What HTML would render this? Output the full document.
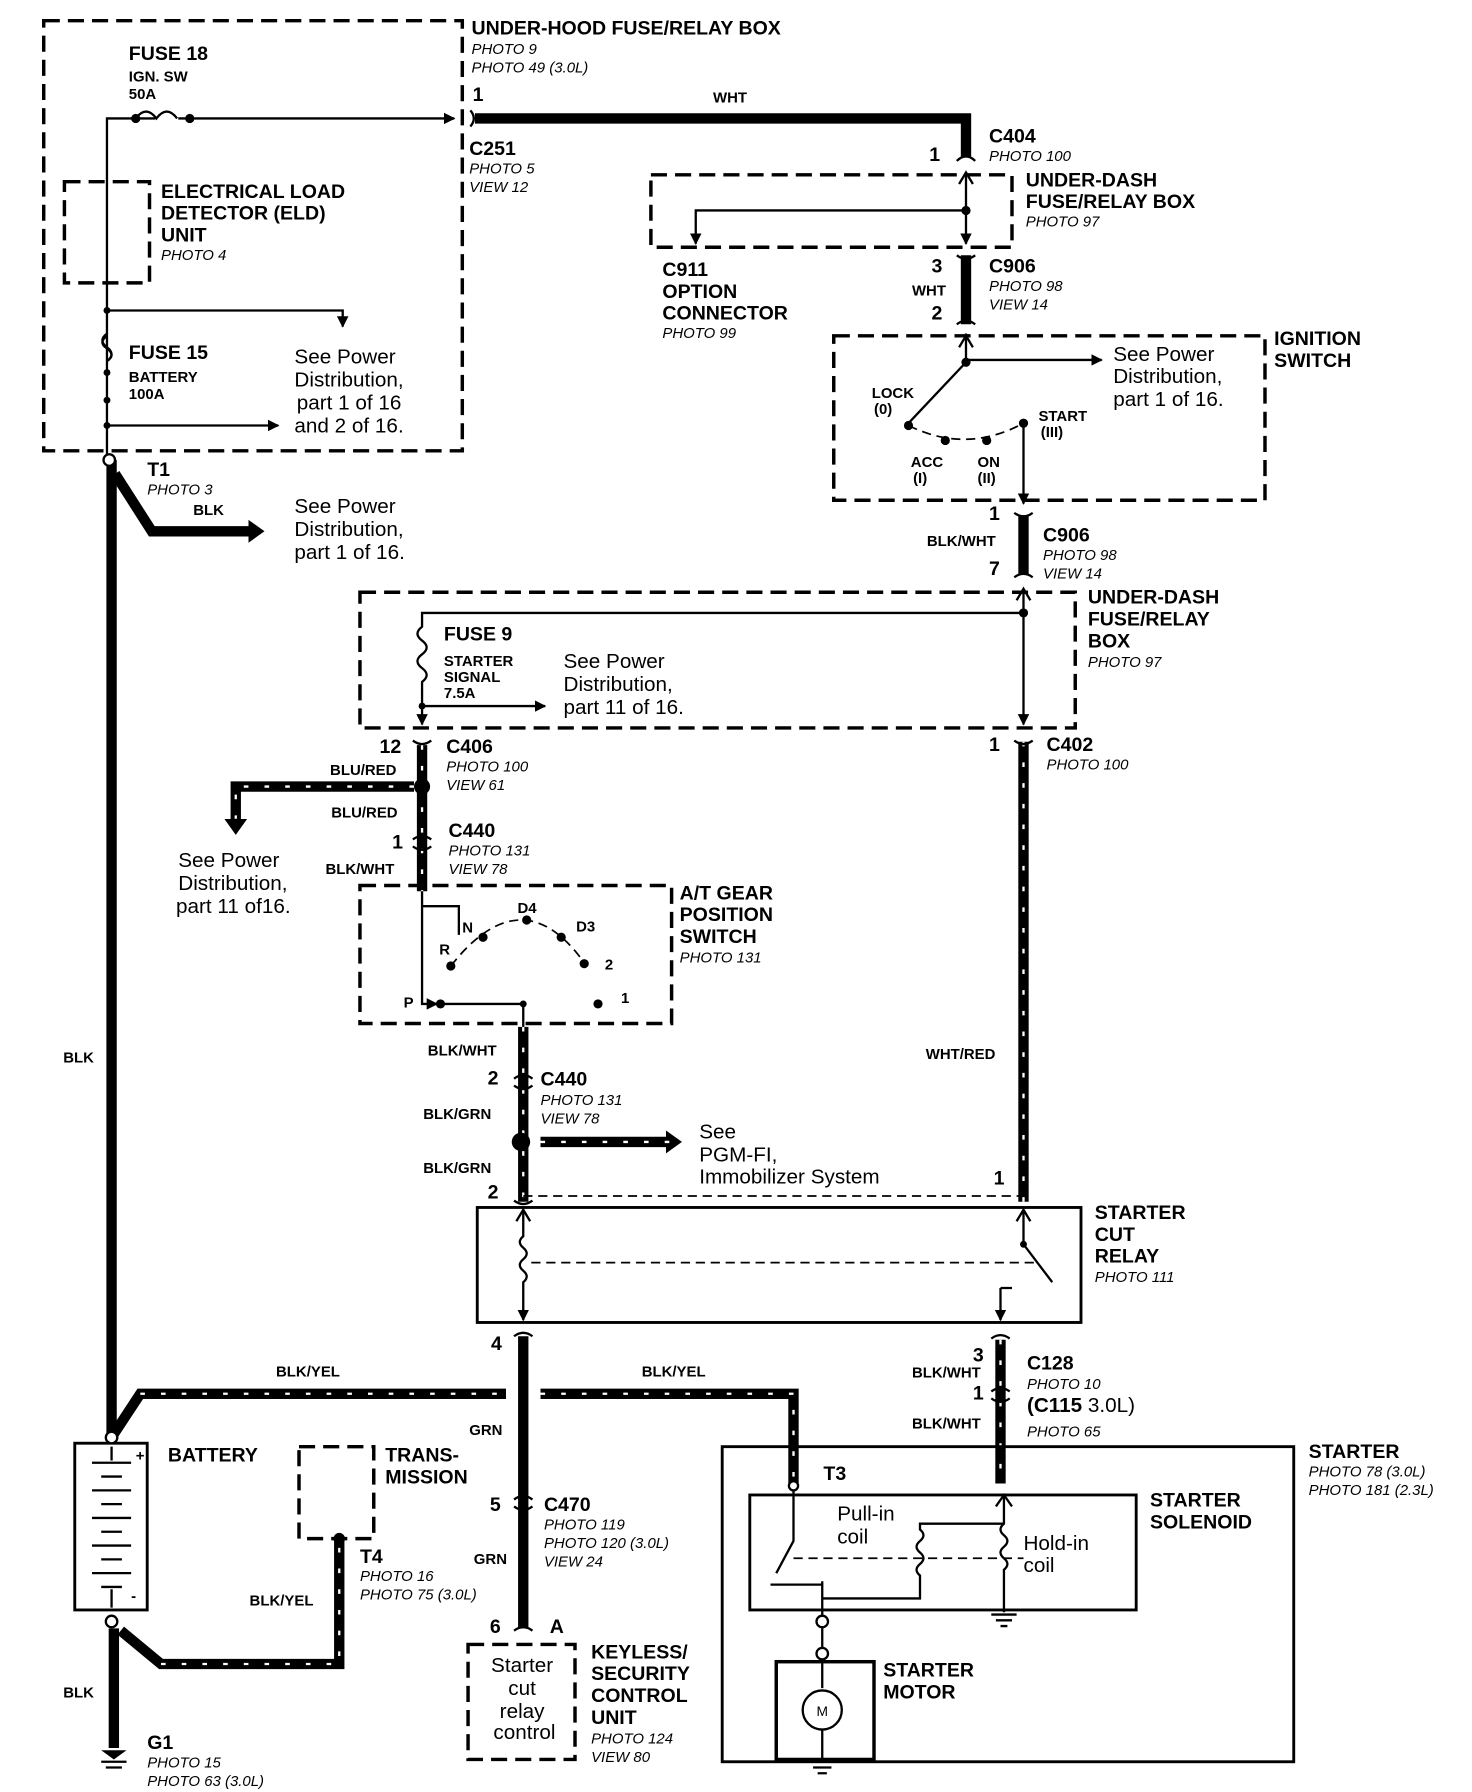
<!DOCTYPE html>
<html><head><meta charset="utf-8"><style>
html,body{margin:0;padding:0;background:#fff}
svg{display:block}
text{font-family:"Liberation Sans",sans-serif;fill:#000}
.b{font-weight:bold;font-size:17px}
.s{font-weight:bold;font-size:13px}
.i{font-style:italic;font-size:13px}
.n{font-size:18px}
.d{fill:none;stroke:#000;stroke-width:3;stroke-dasharray:14 7}
.t{fill:none;stroke:#000;stroke-width:2}
.w{fill:none;stroke:#000;stroke-width:9}
.st{fill:none;stroke:#fff;stroke-width:2;stroke-dasharray:4 14}
.dl{fill:none;stroke:#000;stroke-width:1.5;stroke-dasharray:8 5}
</style></head><body>
<svg width="1472" height="1792" viewBox="0 0 1280 1558.3" xmlns="http://www.w3.org/2000/svg">
<defs><marker id="a" markerWidth="10" markerHeight="10" refX="9" refY="5" orient="auto" markerUnits="userSpaceOnUse"><path d="M0,0 L10,5 L0,10 Z"/></marker>
<marker id="A" markerWidth="24" markerHeight="24" refX="6" refY="12" orient="auto" markerUnits="userSpaceOnUse"><path d="M0,2 L14,12 L0,22 Z"/></marker></defs>

<rect class="d" x="38" y="18" width="364" height="374"/>
<text class="b" x="410" y="30">UNDER-HOOD FUSE/RELAY BOX</text>
<text class="i" x="410" y="47">PHOTO 9</text><text class="i" x="410" y="63">PHOTO 49 (3.0L)</text>
<text class="b" x="112" y="52">FUSE 18</text><text class="s" x="112" y="71">IGN. SW</text><text class="s" x="112" y="86">50A</text>
<path class="t" d="M93,400 V103 H135 M155,103 H395" marker-end="url(#a)"/>
<path class="t" d="M118,103 q9,-12 18,0 q9,-12 18,0"/>
<circle cx="118" cy="103" r="4"/><circle cx="165" cy="103" r="4"/>
<rect class="d" x="56" y="158" width="74" height="88"/>
<text class="b" x="140" y="172">ELECTRICAL LOAD</text><text class="b" x="140" y="191">DETECTOR (ELD)</text><text class="b" x="140" y="210">UNIT</text><text class="i" x="140" y="226">PHOTO 4</text>
<circle cx="93" cy="270" r="3"/>
<path class="t" d="M93,270 H298 V284" marker-end="url(#a)"/>
<path class="t" d="M93,290 q-8,6 0,12 q8,6 0,12" stroke="#fff"/>
<path class="t" d="M93,292 q-8,6 0,11 q8,6 0,11"/>
<circle cx="93" cy="324" r="3"/><circle cx="93" cy="348" r="3"/>
<path class="t" d="M93,370 H242" marker-end="url(#a)"/><circle cx="93" cy="370" r="3"/>
<text class="b" x="112" y="312">FUSE 15</text><text class="s" x="112" y="332">BATTERY</text><text class="s" x="112" y="347">100A</text>
<text class="n" x="256" y="316">See Power</text><text class="n" x="256" y="336">Distribution,</text><text class="n" x="258" y="356">part 1 of 16</text><text class="n" x="256" y="376">and 2 of 16.</text>

<text class="b" x="411" y="88">1</text>
<path d="M409,96 q6,7 0,14" class="t" stroke-width="3"/>
<text class="b" x="408" y="135">C251</text><text class="i" x="408" y="151">PHOTO 5</text><text class="i" x="408" y="167">VIEW 12</text>
<path class="w" d="M413,103 H840 V136" stroke-width="7"/>
<text class="s" x="620" y="89">WHT</text>
<text class="b" x="808" y="140">1</text>
<text class="b" x="860" y="124">C404</text><text class="i" x="860" y="140">PHOTO 100</text>
<path class="t" d="M832,140 q8,-8 16,0" stroke-width="3"/>

<rect class="d" x="566" y="152" width="314" height="63"/>
<text class="b" x="892" y="162">UNDER-DASH</text><text class="b" x="892" y="181">FUSE/RELAY BOX</text><text class="i" x="892" y="197">PHOTO 97</text>
<path class="t" d="M840,150 V212" marker-end="url(#a)"/><path d="M834,160 L840,150 L846,160" class="t"/>
<circle cx="840" cy="183" r="4"/>
<path class="t" d="M840,183 H605 V212" marker-end="url(#a)"/>
<text class="b" x="576" y="240">C911</text><text class="b" x="576" y="259">OPTION</text><text class="b" x="576" y="278">CONNECTOR</text><text class="i" x="576" y="294">PHOTO 99</text>
<path class="w" d="M840,222 V282" stroke-width="8"/>
<path class="t" d="M832,222 q8,6 16,0 M832,282 q8,-6 16,0" stroke-width="3"/>
<text class="b" x="810" y="237">3</text><text class="s" x="793" y="257">WHT</text><text class="b" x="810" y="278">2</text>
<text class="b" x="860" y="237">C906</text><text class="i" x="860" y="253">PHOTO 98</text><text class="i" x="860" y="269">VIEW 14</text>

<rect class="d" x="725" y="292" width="375" height="143"/>
<text class="b" x="1108" y="300">IGNITION</text><text class="b" x="1108" y="319">SWITCH</text>
<path class="t" d="M840,290 V315"/><path class="t" d="M834,302 L840,292 L846,302"/>
<circle cx="840" cy="315" r="4"/>
<path class="t" d="M840,313 H958" marker-end="url(#a)"/>
<text class="n" x="968" y="314">See Power</text><text class="n" x="968" y="333">Distribution,</text><text class="n" x="968" y="353">part 1 of 16.</text>
<path class="t" d="M840,315 L790,368"/>
<circle cx="790" cy="370" r="4"/><circle cx="822" cy="383" r="4"/><circle cx="858" cy="383" r="4"/><circle cx="890" cy="368" r="4"/>
<path class="dl" d="M790,370 Q840,395 890,368"/>
<path class="t" d="M890,368 V438" marker-end="url(#a)"/>
<text class="s" x="758" y="346">LOCK</text><text class="s" x="760" y="360">(0)</text>
<text class="s" x="792" y="406">ACC</text><text class="s" x="794" y="420">(I)</text>
<text class="s" x="850" y="406">ON</text><text class="s" x="850" y="420">(II)</text>
<text class="s" x="903" y="366">START</text><text class="s" x="905" y="380">(III)</text>

<path class="w" d="M890,448 V500" stroke-width="8"/>
<path class="t" d="M882,446 q8,6 16,0 M882,502 q8,-6 16,0" stroke-width="3"/>
<text class="b" x="860" y="452">1</text><text class="s" x="806" y="475">BLK/WHT</text><text class="b" x="860" y="500">7</text>
<text class="b" x="907" y="471">C906</text><text class="i" x="907" y="487">PHOTO 98</text><text class="i" x="907" y="503">VIEW 14</text>

<rect class="d" x="313" y="515" width="622" height="118"/>
<text class="b" x="946" y="525">UNDER-DASH</text><text class="b" x="946" y="544">FUSE/RELAY</text><text class="b" x="946" y="563">BOX</text><text class="i" x="946" y="580">PHOTO 97</text>
<path class="t" d="M890,512 V630" marker-end="url(#a)"/><path class="t" d="M884,522 L890,512 L896,522"/>
<circle cx="890" cy="533" r="4"/>
<path class="t" d="M890,533 H367 V545 q-8,6 0,12 q8,6 0,12 q-8,6 0,12 q8,6 0,12 V630" marker-end="url(#a)"/>
<circle cx="367" cy="614" r="3"/>
<path class="t" d="M367,614 H474" marker-end="url(#a)"/>
<text class="b" x="386" y="557">FUSE 9</text><text class="s" x="386" y="579">STARTER</text><text class="s" x="386" y="593">SIGNAL</text><text class="s" x="386" y="607">7.5A</text>
<text class="n" x="490" y="581">See Power</text><text class="n" x="490" y="601">Distribution,</text><text class="n" x="490" y="621">part 11 of 16.</text>

<path class="w" d="M367,648 V775" stroke-width="7"/><path class="st" d="M367,648 V775"/>
<path class="t" d="M359,644 q8,6 16,0" stroke-width="3"/>
<text class="b" x="330" y="655">12</text>
<text class="b" x="388" y="655">C406</text><text class="i" x="388" y="671">PHOTO 100</text><text class="i" x="388" y="687">VIEW 61</text>
<circle cx="367" cy="684" r="7"/>
<path class="w" d="M360,684 H205 V718" stroke-width="8" marker-end="url(#A)"/><path class="st" d="M360,684 H205 V712"/>
<text class="s" x="287" y="674">BLU/RED</text><text class="s" x="288" y="711">BLU/RED</text>
<text class="n" x="155" y="754">See Power</text><text class="n" x="155" y="774">Distribution,</text><text class="n" x="153" y="794">part 11 of16.</text>
<path class="t" d="M359,730 q8,-6 16,0 M359,736 q8,6 16,0" stroke-width="3"/>
<text class="b" x="341" y="738">1</text>
<text class="b" x="390" y="728">C440</text><text class="i" x="390" y="744">PHOTO 131</text><text class="i" x="390" y="760">VIEW 78</text>
<text class="s" x="283" y="760">BLK/WHT</text>

<rect class="d" x="313" y="770" width="271" height="120"/>
<text class="b" x="591" y="782">A/T GEAR</text><text class="b" x="591" y="801">POSITION</text><text class="b" x="591" y="820">SWITCH</text><text class="i" x="591" y="837">PHOTO 131</text>
<path class="t" d="M367,775 V873 H380" marker-end="url(#a)"/>
<path class="t" d="M367,788 H399 V813"/>
<circle cx="383" cy="873" r="4"/><circle cx="392" cy="840" r="4"/><circle cx="420" cy="815" r="4"/><circle cx="458" cy="800" r="4"/><circle cx="488" cy="815" r="4"/><circle cx="508" cy="838" r="4"/><circle cx="520" cy="873" r="4"/>
<path class="dl" d="M392,840 Q455,760 510,840"/>
<path class="t" d="M383,873 H455 V895"/><circle cx="455" cy="873" r="3"/>
<text class="s" x="351" y="876">P</text><text class="s" x="382" y="830">R</text><text class="s" x="402" y="811">N</text><text class="s" x="450" y="794">D4</text><text class="s" x="501" y="810">D3</text><text class="s" x="526" y="843">2</text><text class="s" x="540" y="872">1</text>

<path class="w" d="M455,893 V1045" stroke-width="8"/><path class="st" d="M455,893 V1045"/>
<path class="t" d="M447,938 q8,-6 16,0 M447,944 q8,6 16,0 M447,1044 q8,6 16,0" stroke-width="3"/>
<text class="s" x="372" y="918">BLK/WHT</text><text class="b" x="424" y="943">2</text>
<text class="b" x="470" y="944">C440</text><text class="i" x="470" y="961">PHOTO 131</text><text class="i" x="470" y="977">VIEW 78</text>
<text class="s" x="368" y="973">BLK/GRN</text><text class="s" x="368" y="1020">BLK/GRN</text><text class="b" x="424" y="1042">2</text>
<circle cx="453" cy="993" r="8"/>
<path class="w" d="M470,993 H585" stroke-width="8" marker-end="url(#A)"/><path class="st" d="M470,993 H585"/>
<text class="n" x="608" y="990">See</text><text class="n" x="608" y="1010">PGM-FI,</text><text class="n" x="608" y="1029">Immobilizer System</text>
<path class="dl" d="M455,1040 H890"/>

<path class="w" d="M890,645 V1045" stroke-width="8"/><path class="st" d="M890,645 V1045"/>
<path class="t" d="M882,644 q8,6 16,0" stroke-width="3"/>
<text class="b" x="860" y="653">1</text><text class="b" x="910" y="653">C402</text><text class="i" x="910" y="669">PHOTO 100</text>
<text class="s" x="805" y="921">WHT/RED</text><text class="b" x="864" y="1030">1</text>

<rect x="415" y="1050" width="525" height="100" fill="none" stroke="#000" stroke-width="2.5"/>
<text class="b" x="952" y="1060">STARTER</text><text class="b" x="952" y="1079">CUT</text><text class="b" x="952" y="1098">RELAY</text><text class="i" x="952" y="1115">PHOTO 111</text>
<path class="t" d="M455,1052 V1075 q-6,5 0,10 q6,5 0,10 q-6,5 0,10 q6,5 0,10 V1148" marker-end="url(#a)"/><path class="t" d="M449,1062 L455,1052 L461,1062"/>
<path class="dl" d="M462,1098 H900"/>
<path class="t" d="M890,1052 V1082 L915,1115 M870,1120 H880 M870,1120 V1148" marker-end="url(#a)"/><path class="t" d="M884,1062 L890,1052 L896,1062"/>
<circle cx="890" cy="1082" r="3"/>

<text class="b" x="427" y="1174">4</text>
<path class="w" d="M455,1162 V1415"/>
<path class="t" d="M447,1162 q8,-6 16,0 M447,1304 q8,-6 16,0 M447,1310 q8,6 16,0 M447,1418 q8,-6 16,0" stroke-width="3"/>
<text class="s" x="408" y="1248">GRN</text><text class="b" x="426" y="1314">5</text>
<text class="b" x="473" y="1314">C470</text><text class="i" x="473" y="1330">PHOTO 119</text><text class="i" x="473" y="1346">PHOTO 120 (3.0L)</text><text class="i" x="473" y="1362">VIEW 24</text>
<text class="s" x="412" y="1360">GRN</text><text class="b" x="426" y="1420">6</text><text class="b" x="478" y="1420">A</text>
<rect class="d" x="407" y="1430" width="93" height="100"/>
<text class="n" x="454" y="1454" text-anchor="middle">Starter</text><text class="n" x="454" y="1474" text-anchor="middle">cut</text><text class="n" x="454" y="1494" text-anchor="middle">relay</text><text class="n" x="456" y="1512" text-anchor="middle">control</text>
<text class="b" x="514" y="1442">KEYLESS/</text><text class="b" x="514" y="1461">SECURITY</text><text class="b" x="514" y="1480">CONTROL</text><text class="b" x="514" y="1499">UNIT</text><text class="i" x="514" y="1516">PHOTO 124</text><text class="i" x="514" y="1532">VIEW 80</text>

<path class="w" d="M97,1250 L122,1212 H440 M470,1212 H690 V1290" stroke-width="8"/><path class="st" d="M122,1212 H440 M470,1212 H690 V1285"/>
<text class="s" x="240" y="1197">BLK/YEL</text><text class="s" x="558" y="1197">BLK/YEL</text>

<path class="w" d="M870,1165 V1290" stroke-width="8"/><path class="st" d="M870,1165 V1290"/>
<path class="t" d="M862,1164 q8,-6 16,0 M862,1210 q8,-6 16,0 M862,1216 q8,6 16,0" stroke-width="3"/>
<text class="b" x="846" y="1184">3</text><text class="b" x="846" y="1217">1</text>
<text class="s" x="793" y="1198">BLK/WHT</text><text class="s" x="793" y="1242">BLK/WHT</text>
<text class="b" x="893" y="1191">C128</text><text class="i" x="893" y="1208">PHOTO 10</text><text class="n" x="893" y="1228" font-weight="bold">(C115 <tspan font-weight="normal">3.0L)</tspan></text><text class="i" x="893" y="1249">PHOTO 65</text>

<rect x="628" y="1258" width="497" height="274" fill="none" stroke="#000" stroke-width="2.5"/>
<text class="b" x="1138" y="1268">STARTER</text><text class="i" x="1138" y="1284">PHOTO 78 (3.0L)</text><text class="i" x="1138" y="1300">PHOTO 181 (2.3L)</text>
<text class="b" x="716" y="1287">T3</text>
<rect x="652" y="1300" width="336" height="100" fill="none" stroke="#000" stroke-width="2.5"/>
<text class="b" x="1000" y="1310">STARTER</text><text class="b" x="1000" y="1329">SOLENOID</text>
<circle cx="690" cy="1292" r="4" fill="#fff" stroke="#000" stroke-width="2"/>
<path class="t" d="M690,1296 V1340 L675,1368"/>
<path class="dl" d="M690,1355 H890"/>
<path class="t" d="M670,1378 H715 M715,1375 V1405 M715,1390 H800 V1370 q-6,-5 0,-10 q6,-5 0,-10 q-6,-5 0,-10 q6,-5 0,-10 V1325 H873"/>
<path class="t" d="M873,1300 V1325 q-6,5 0,10 q6,5 0,10 q-6,5 0,10 q6,5 0,10 V1402"/>
<path class="t" d="M866,1310 L873,1300 L880,1310"/>
<path class="t" d="M862,1404 H884 M866,1409 H880 M870,1414 H876"/>
<text class="n" x="728" y="1322">Pull-in</text><text class="n" x="728" y="1342">coil</text>
<text class="n" x="890" y="1348">Hold-in</text><text class="n" x="890" y="1367">coil</text>
<circle cx="715" cy="1410" r="5" fill="#fff" stroke="#000" stroke-width="2"/><circle cx="715" cy="1438" r="5" fill="#fff" stroke="#000" stroke-width="2"/>
<path class="t" d="M715,1415 V1433 M715,1443 V1468"/>
<rect x="675" y="1445" width="85" height="85" fill="none" stroke="#000" stroke-width="3"/>
<circle cx="715" cy="1487" r="17" fill="none" stroke="#000" stroke-width="2"/><text x="710" y="1492" font-size="12">M</text>
<path class="t" d="M715,1504 V1530 M703,1532 H727 M707,1537 H723 M711,1542 H719"/>
<text class="b" x="768" y="1458">STARTER</text><text class="b" x="768" y="1477">MOTOR</text>

<path class="w" d="M97,400 V1248" stroke-width="10"/>
<circle cx="95" cy="400" r="5" fill="#fff" stroke="#000" stroke-width="2"/>
<path class="w" d="M100,412 L132,462 H222" stroke-width="8" marker-end="url(#A)"/>
<text class="b" x="128" y="414">T1</text><text class="i" x="128" y="430">PHOTO 3</text><text class="s" x="168" y="448">BLK</text>
<text class="n" x="256" y="446">See Power</text><text class="n" x="256" y="466">Distribution,</text><text class="n" x="256" y="486">part 1 of 16.</text>
<text class="s" x="55" y="924">BLK</text>

<rect x="65" y="1255" width="63" height="145" fill="none" stroke="#000" stroke-width="2.5"/>
<path stroke="#000" stroke-width="2" d="M80,1272 H114 M88,1284 H106 M80,1296 H114 M88,1308 H106 M80,1320 H114 M88,1332 H106 M80,1344 H114 M88,1356 H106 M80,1368 H114 M88,1380 H106"/>
<path class="t" d="M97,1258 V1270 M97,1382 V1398"/>
<text class="s" x="118" y="1270">+</text><text class="s" x="114" y="1392">-</text>
<text class="b" x="146" y="1271">BATTERY</text>
<circle cx="97" cy="1250" r="5" fill="#fff" stroke="#000" stroke-width="2"/>
<circle cx="97" cy="1410" r="5" fill="#fff" stroke="#000" stroke-width="2"/>
<path class="w" d="M99,1416 V1520" stroke-width="10"/>
<path d="M88,1522 H110 L99,1530 Z"/><path class="t" d="M88,1532 H110 M92,1537 H106"/>
<text class="s" x="55" y="1476">BLK</text>
<text class="b" x="128" y="1521">G1</text><text class="i" x="128" y="1537">PHOTO 15</text><text class="i" x="128" y="1553">PHOTO 63 (3.0L)</text>
<path class="w" d="M105,1418 L140,1447 H295 V1340" stroke-width="8"/><path class="st" d="M140,1447 H295 V1345"/>
<circle cx="295" cy="1338" r="5"/>
<rect class="d" x="260" y="1258" width="65" height="80"/>
<text class="b" x="335" y="1271">TRANS-</text><text class="b" x="335" y="1290">MISSION</text>
<text class="b" x="313" y="1359">T4</text><text class="i" x="313" y="1375">PHOTO 16</text><text class="i" x="313" y="1391">PHOTO 75 (3.0L)</text>
<text class="s" x="217" y="1396">BLK/YEL</text>
</svg>
</body></html>
